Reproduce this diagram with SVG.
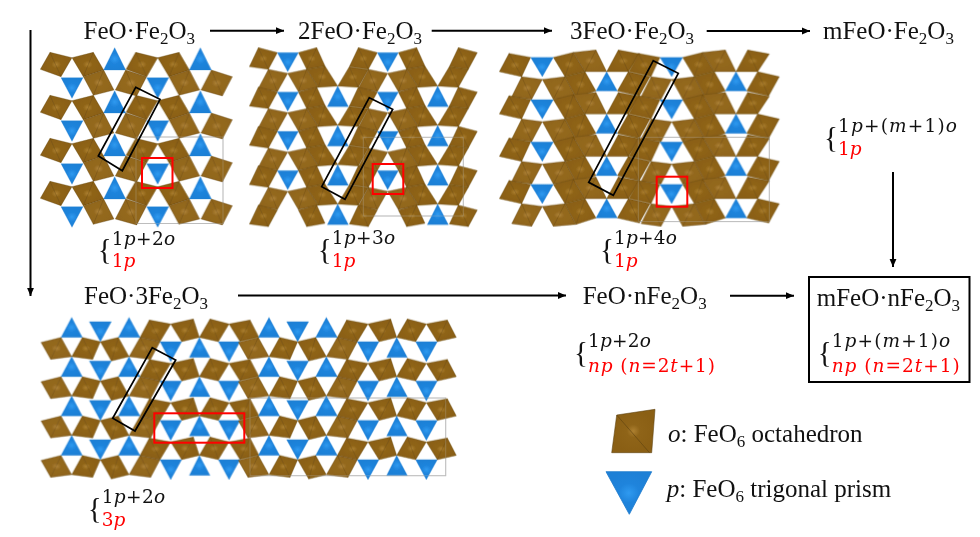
<svg xmlns="http://www.w3.org/2000/svg" width="980" height="537" viewBox="0 0 980 537">
<style>
.o{fill:url(#og);stroke:#5a3f0e;stroke-width:1.2;stroke-opacity:.8;stroke-linejoin:round}
.l{fill:url(#og2)}
.p{fill:url(#bg);stroke:#1b78cc;stroke-width:.8}
.cell{fill:none;stroke:#bdbdbd;stroke-width:1}
.over{opacity:.3}
.blk{fill:none;stroke:#000;stroke-width:1.7}
.red{fill:none;stroke:#f00;stroke-width:2}
.t{font-family:"Liberation Serif","Times New Roman",serif;font-size:25px;fill:#111}
.s{font-size:17px}
.m{font-family:"DejaVu Serif",serif;font-size:18.500px;fill:#111}
.r{fill:#f00}
.b{font-family:"Liberation Serif",serif;font-size:29px;fill:#111}
.i{font-style:italic}
.c line{stroke:#000;stroke-width:2;marker-end:url(#ah)}
.soft{filter:url(#sf)}
</style>
<defs>
<filter id="sf" x="-2%" y="-2%" width="104%" height="104%"><feGaussianBlur stdDeviation=".2"/></filter>
<radialGradient id="og"><stop offset="0" stop-color="#ad8030"/><stop offset=".3" stop-color="#8f6418"/><stop offset="1" stop-color="#8a5f14"/></radialGradient>
<radialGradient id="og2"><stop offset="0" stop-color="#b0843a"/><stop offset=".3" stop-color="#94691f"/><stop offset="1" stop-color="#90651c"/></radialGradient>
<radialGradient id="bg"><stop offset="0" stop-color="#2f9af0"/><stop offset=".45" stop-color="#1f84dc"/><stop offset="1" stop-color="#1e80d6"/></radialGradient>
<marker id="ah" markerUnits="userSpaceOnUse" markerWidth="10" markerHeight="8" refX="8" refY="4" orient="auto"><path d="M0 0.6L8 4L0 7.4Z" fill="#000"/></marker>
<g id="c1">
<path class="o" d="M31 178L60 127L126 143L93 200ZM60 127L93 200"/>
<path class="o" d="M126 143L190 127L221 180L160 200ZM190 127L160 200"/>
<path class="o l" d="M160 200L221 180L252 240L190 256ZM221 180L190 256"/>
<path class="o l" d="M256 240L287 180L350 200L320 258ZM287 180L320 258"/>
<polygon class="p" points="254,113 287,180 221,180"/>
<polygon class="p" points="93,203 159,203 126,265"/>
</g>
<path id="a2" class="o" d="M-2 170L25 113L82 128L55 178ZM25 113L55 178"/>
<path id="b2" class="o" d="M145 128L200 113L225 168L170 178ZM200 113L170 178"/>
<g id="c2">
<use href="#a2"/>
<use href="#b2"/>
<path class="o l" d="M25 235L55 178L113 190L82 245ZM55 178L82 245"/>
<path class="o l" d="M113 190L170 178L205 232L145 245ZM170 178L145 245"/>
<path class="o" d="M170 178L225 168L263 228L205 232ZM225 168L205 232"/>
<path class="o" d="M263 228L298 170L355 178L325 232ZM298 170L325 232"/>
<polygon class="p" points="82,128 145,128 113,185"/>
<polygon class="p" points="263,228 295,290 232,290"/>
</g>
<g id="c3">
<path class="o" d="M28 185L57 130L122 142L95 200ZM57 130L95 200"/>
<path class="o" d="M190 142L250 127L285 185L225 200ZM250 127L225 200"/>
<path class="o l" d="M250 127L318 120L350 185L285 185ZM318 120L285 185"/>
<path class="o" d="M350 185L385 120L450 132L415 185ZM385 120L415 185"/>
<path class="o l" d="M65 260L95 200L157 208L125 268ZM95 200L125 268"/>
<path class="o l" d="M157 208L225 200L258 262L190 268ZM225 200L190 268"/>
<path class="o" d="M225 200L285 185L318 243L258 262ZM285 185L258 262"/>
<path class="o" d="M382 243L415 185L480 200L448 258ZM415 185L448 258"/>
<polygon class="p" points="122,142 190,142 157,200"/>
<polygon class="p" points="350,185 382,243 318,243"/>
</g>
<g id="c4">
<path class="o l" d="M33 127L93 112L125 170L62 178ZM93 112L62 178"/>
<path class="o" d="M125 170L157 112L211 125L188 178ZM157 112L188 178"/>
<path class="o" d="M211 125L265 112L297 170L244 183ZM265 112L244 183"/>
<path class="o l" d="M297 170L330 112L390 125L362 178ZM330 112L362 178"/>
<path class="o" d="M330 112L358 60L422 72L390 125ZM358 60L390 125"/>
<path class="o" d="M422 72L490 57L508 112L455 125ZM490 57L455 125"/>
<path class="o" d="M508 112L540 57L597 72L565 125ZM540 57L565 125"/>
<path class="o" d="M597 72L660 60L687 112L630 125ZM660 60L630 125"/>
<polygon class="p" points="125,52 157,112 93,112"/>
<polygon class="p" points="178,65 244,65 211,125"/>
<polygon class="p" points="297,52 330,112 265,112"/>
<polygon class="p" points="390,125 455,125 422,185"/>
<polygon class="p" points="508,112 540,172 478,172"/>
<polygon class="p" points="565,125 630,125 597,185"/>
</g>
</defs>
<rect width="980" height="537" fill="#fff"/>

<g id="panel1">
<rect id="cell1" class="cell" x="136" y="137" width="87" height="86.500"/>
<g class="soft" transform="translate(30,10) scale(.33333)">
<use href="#c1"/><use href="#c1" y="129"/><use href="#c1" y="258"/><use href="#c1" y="387"/>
<use href="#c1" x="257"/><use href="#c1" x="257" y="129"/><use href="#c1" x="257" y="258"/><use href="#c1" x="257" y="387"/>
</g>
<use href="#cell1" class="over"/>
<polygon class="blk" points="135.700,87.300 160,99.300 122.300,170.700 98.300,156"/>
<rect class="red" x="142" y="158" width="30.500" height="30"/>
</g>

<g id="panel2">
<rect id="cell2" class="cell" x="363.300" y="137.300" width="100" height="78.700"/>
<g class="soft" transform="translate(250,10) scale(.33333)">
<use href="#c2"/><use href="#c2" y="118"/><use href="#c2" y="236"/><use href="#c2" y="354"/>
<use href="#c2" x="300"/><use href="#c2" x="300" y="118"/><use href="#c2" x="300" y="236"/><use href="#c2" x="300" y="354"/>
<use href="#a2" x="600"/><use href="#a2" x="600" y="118"/><use href="#a2" x="600" y="236"/><use href="#a2" x="600" y="354"/><use href="#a2" x="600" y="472"/>
<use href="#a2" y="472"/><use href="#b2" y="472"/><use href="#a2" x="300" y="472"/><use href="#b2" x="300" y="472"/>
</g>
<use href="#cell2" class="over"/>
<polygon class="blk" points="369.300,97.700 392.700,109.300 345,199.300 321.700,186.700"/>
<rect class="red" x="372.700" y="164" width="30.600" height="30"/>
</g>

<g id="panel3">
<rect id="cell3" class="cell" x="638.300" y="137.300" width="131" height="84.300"/>
<g class="soft" transform="translate(490,10) scale(.33333)">
<use href="#c3"/><use href="#c3" y="127"/><use href="#c3" y="254"/><use href="#c3" y="381"/>
<use href="#c3" x="388"/><use href="#c3" x="388" y="127"/><use href="#c3" x="388" y="254"/><use href="#c3" x="388" y="381"/>
</g>
<use href="#cell3" class="over"/>
<polygon class="blk" points="653.300,60.700 678.300,73.300 613.300,195.300 588.700,182.300"/>
<rect class="red" x="656.700" y="176.700" width="30.600" height="30"/>
</g>

<g id="panel4">
<rect id="cell4" class="cell" x="250" y="398" width="195.700" height="77.700"/>
<g class="soft" transform="translate(30,300) scale(.33333)">
<use href="#c4"/><use href="#c4" y="118"/><use href="#c4" y="236"/><use href="#c4" y="354"/>
<use href="#c4" x="592"/><use href="#c4" x="592" y="118"/><use href="#c4" x="592" y="236"/><use href="#c4" x="592" y="354"/>
</g>
<use href="#cell4" class="over"/>
<polygon class="blk" points="152.300,347.700 175.700,360 135,431 112.700,418.300"/>
<rect class="red" x="154.300" y="413.300" width="90" height="29.400"/>
</g>

<g id="connectors" class="c">
<line x1="210" y1="30.700" x2="284" y2="30.700"/>
<line x1="431.700" y1="30.700" x2="552" y2="30.700"/>
<line x1="706.700" y1="31" x2="810" y2="31"/>
<line x1="30.500" y1="30" x2="30.500" y2="296"/>
<line x1="238" y1="295.500" x2="566" y2="295.500"/>
<line x1="730" y1="295.700" x2="794" y2="295.700"/>
<line x1="893" y1="172" x2="893" y2="267"/>
</g>

<g id="node-feo-fe2o3">
<text class="t" x="83.500" y="39">FeO·Fe<tspan class="s" dy="5">2</tspan><tspan dy="-5">O</tspan><tspan class="s" dy="5">3</tspan></text>
<text class="b" x="97.700" y="259">{</text>
<text class="m" x="111.700" y="245" textLength="63.500">1<tspan class="i">p</tspan>+2<tspan class="i">o</tspan></text>
<text class="m r" x="111.700" y="267">1<tspan class="i">p</tspan></text>
</g>
<g id="node-2feo-fe2o3">
<text class="t" x="298" y="39">2FeO·Fe<tspan class="s" dy="5">2</tspan><tspan dy="-5">O</tspan><tspan class="s" dy="5">3</tspan></text>
<text class="b" x="317.700" y="259">{</text>
<text class="m" x="331.700" y="244" textLength="63.500">1<tspan class="i">p</tspan>+3<tspan class="i">o</tspan></text>
<text class="m r" x="331.700" y="267">1<tspan class="i">p</tspan></text>
</g>
<g id="node-3feo-fe2o3">
<text class="t" x="570" y="39">3FeO·Fe<tspan class="s" dy="5">2</tspan><tspan dy="-5">O</tspan><tspan class="s" dy="5">3</tspan></text>
<text class="b" x="600" y="259">{</text>
<text class="m" x="614" y="244" textLength="63">1<tspan class="i">p</tspan>+4<tspan class="i">o</tspan></text>
<text class="m r" x="614" y="267">1<tspan class="i">p</tspan></text>
</g>
<g id="node-mfeo-fe2o3">
<text class="t" x="823" y="39">mFeO·Fe<tspan class="s" dy="5">2</tspan><tspan dy="-5">O</tspan><tspan class="s" dy="5">3</tspan></text>
<text class="b" x="824" y="147">{</text>
<text class="m" x="838" y="132" textLength="119">1<tspan class="i">p</tspan>+(<tspan class="i">m</tspan>+1)<tspan class="i">o</tspan></text>
<text class="m r" x="838" y="155">1<tspan class="i">p</tspan></text>
</g>
<g id="node-feo-3fe2o3">
<text class="t" x="84" y="304">FeO·3Fe<tspan class="s" dy="5">2</tspan><tspan dy="-5">O</tspan><tspan class="s" dy="5">3</tspan></text>
<text class="b" x="87.700" y="518">{</text>
<text class="m" x="101.700" y="503" textLength="63.500">1<tspan class="i">p</tspan>+2<tspan class="i">o</tspan></text>
<text class="m r" x="101.700" y="526">3<tspan class="i">p</tspan></text>
</g>
<g id="node-feo-nfe2o3">
<text class="t" x="582.700" y="304">FeO·nFe<tspan class="s" dy="5">2</tspan><tspan dy="-5">O</tspan><tspan class="s" dy="5">3</tspan></text>
<text class="b" x="574" y="362">{</text>
<text class="m" x="588" y="347" textLength="63">1<tspan class="i">p</tspan>+2<tspan class="i">o</tspan></text>
<text class="m r" x="588" y="372" textLength="127"><tspan class="i">np</tspan> (<tspan class="i">n</tspan>=2<tspan class="i">t</tspan>+1)</text>
</g>
<g id="node-mfeo-nfe2o3">
<rect x="809" y="277" width="160.500" height="105" fill="none" stroke="#000" stroke-width="2"/>
<text class="t" x="816.700" y="306">mFeO·nFe<tspan class="s" dy="5">2</tspan><tspan dy="-5">O</tspan><tspan class="s" dy="5">3</tspan></text>
<text class="b" x="817.700" y="362">{</text>
<text class="m" x="831.700" y="347" textLength="118.500">1<tspan class="i">p</tspan>+(<tspan class="i">m</tspan>+1)<tspan class="i">o</tspan></text>
<text class="m r" x="831.700" y="372" textLength="128"><tspan class="i">np</tspan> (<tspan class="i">n</tspan>=2<tspan class="i">t</tspan>+1)</text>
</g>
<g id="legend-octahedron">
<path class="o" d="M616.700 415L655 409.300L651.700 452.700L611.700 452.700ZM616.700 415L649.500 452.700" style="stroke-width:.7"/>
<text class="t" x="668" y="441.700"><tspan class="i">o</tspan>: FeO<tspan class="s" dy="5">6</tspan><tspan dy="-5"> octahedron</tspan></text>
</g>
<g id="legend-prism">
<polygon class="p" points="606,471.700 651.700,471.700 629.300,514.300"/>
<text class="t" x="666.700" y="497"><tspan class="i">p</tspan>: FeO<tspan class="s" dy="5">6</tspan><tspan dy="-5"> trigonal prism</tspan></text>
</g>
</svg>
